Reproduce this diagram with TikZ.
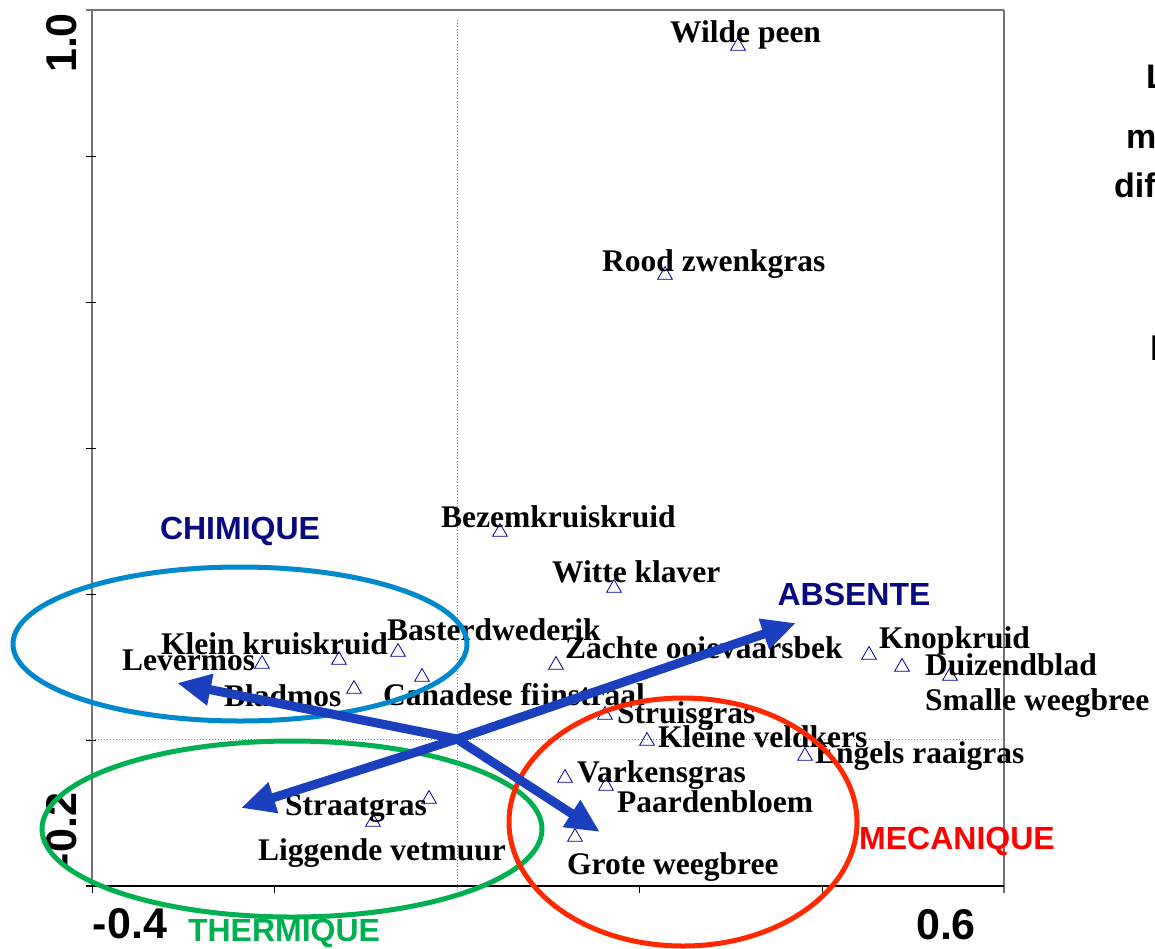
\documentclass[tikz,border=0pt]{standalone}
\usepackage{fontspec}
\setmainfont{Liberation Serif}
\setsansfont{Liberation Sans}
\usetikzlibrary{positioning, shapes.geometric, arrows.meta}
\definecolor{markblue}{RGB}{0,0,153}
\definecolor{catnavy}{RGB}{10,10,128}
\definecolor{vecblue}{RGB}{26,64,190}
\definecolor{chimblue}{RGB}{0,136,204}
\definecolor{thermgreen}{RGB}{0,176,80}
\definecolor{mecared}{RGB}{255,40,0}
\definecolor{axisgray}{RGB}{115,115,115}
\tikzstyle{Species} = [regular polygon, regular polygon sides=3, draw=markblue,
  line width=0.8pt, minimum size=17pt, inner sep=0pt]
\tikzstyle{Name} = [anchor=base west, inner sep=0pt,
  font=\fontsize{31.5}{31.5}\selectfont\bfseries]
\tikzstyle{Group} = [inner sep=0pt, font=\fontsize{32}{32}\selectfont\sffamily\bfseries]
\tikzstyle{Title} = [anchor=base west, inner sep=0pt,
  font=\fontsize{34}{34}\selectfont\sffamily\bfseries]
\tikzstyle{Tick} = [inner sep=0pt, font=\fontsize{43}{43}\selectfont\sffamily\bfseries]
\tikzstyle{Vector} = [line width=9pt, vecblue,
  -{Triangle[length=34pt,width=30pt]}]

\begin{document}
\begin{tikzpicture}[x=1pt, y=-1pt]
    \useasboundingbox (0,0) rectangle (1155,948);
    % frame and axes
    \draw[axisgray, line width=1.5pt] (86,10) -- (1004,10);
    \draw[axisgray, line width=1.5pt] (92,10) -- (92,886);
    \draw[axisgray, line width=1.5pt] (1004,10) -- (1004,893);
    \draw[black, line width=1.5pt] (86,886) -- (1004,886);
    \foreach \y in {156,302,448,594,740}
        \draw[black, line width=1pt] (86,\y) -- (96,\y);
    \foreach \x in {92,274.5,639.5,822}
        \draw[black, line width=1pt] (\x,886) -- (\x,893);
    \draw[gray, dotted, line width=1pt] (457,20) -- (457,893);
    \draw[gray, dotted, line width=1pt] (86,739) -- (1004,739);
    \node[Tick, rotate=90] (y10) at (62,43) {1.0};
    \node[Tick, rotate=90] (ym02) at (62,830) {-0.2};
    \node[Tick] (xm04) at (130,924) {-0.4};
    \node[Tick] (x06) at (946,925) {0.6};
    % title, cut at the right edge
    \node[Title] (t1) at (1146,88) {L};
    \node[Title] (t2) at (1126,148) {m};
    \node[Title] (t3) at (1114,197) {dif};
    \node[Title] (t4) at (1150,360) {l};
    % species
    \node[Species] (wp) at (738,46) {};
    \node[Species] (rz) at (665,275) {};
    \node[Species] (bk) at (500,532) {};
    \node[Species] (wk) at (614,588) {};
    \node[Species] (zo) at (556,665) {};
    \node[Species] (lm) at (262,664) {};
    \node[Species] (kk) at (339,660) {};
    \node[Species] (bw) at (398,652) {};
    \node[Species] (bm) at (354,689) {};
    \node[Species] (cf) at (422,677) {};
    \node[Species] (kp) at (869,655) {};
    \node[Species] (db) at (902,667) {};
    \node[Species] (sw) at (950,676) {};
    \node[Species] (sg) at (605,715) {};
    \node[Species] (kv) at (647,741) {};
    \node[Species] (er) at (805,756) {};
    \node[Species] (vg) at (565,778) {};
    \node[Species] (pb) at (606,786) {};
    \node[Species] (gw) at (575,837) {};
    \node[Species] (st) at (429,799) {};
    \node[Species] (lv) at (373,822) {};
    \node[Name] (wpT) at (670,42) {Wilde peen};
    \node[Name] (rzT) at (602,271) {Rood zwenkgras};
    \node[Name] (bkT) at (441,527) {Bezemkruiskruid};
    \node[Name] (wkT) at (552,582) {Witte klaver};
    \node[Name] (zoT) at (565,658) {Zachte ooievaarsbek};
    \node[Name] (bwT) at (387,640) {Basterdwederik};
    \node[Name] (kkT) at (161,654) {Klein kruiskruid};
    \node[Name] (lmT) at (122,670) {Levermos};
    \node[Name] (bmT) at (224,706) {Bladmos};
    \node[Name] (cfT) at (383,705) {Canadese fijnstraal};
    \node[Name] (kpT) at (879,648) {Knopkruid};
    \node[Name] (dbT) at (925,675) {Duizendblad};
    \node[Name] (swT) at (925,710) {Smalle weegbree};
    \node[Name] (sgT) at (617,723) {Struisgras};
    \node[Name] (kvT) at (658,747) {Kleine veldkers};
    \node[Name] (erT) at (815,763) {Engels raaigras};
    \node[Name] (vgT) at (577,782) {Varkensgras};
    \node[Name] (pbT) at (617,812) {Paardenbloem};
    \node[Name] (stT) at (285,815) {Straatgras};
    \node[Name] (lvT) at (258,860) {Liggende vetmuur};
    \node[Name] (gwT) at (567,874) {Grote weegbree};
    % groups
    \draw[chimblue, line width=5pt] (240,644) ellipse [x radius=227, y radius=77];
    \draw[thermgreen, line width=5pt] (292,829) ellipse [x radius=250, y radius=88];
    \draw[mecared, line width=5pt] (683,822) ellipse [x radius=174, y radius=124];
    \node[Group, text=catnavy] (chim) at (240,531) {CHIMIQUE};
    \node[Group, text=catnavy] (abs) at (854,594) {ABSENTE};
    \node[Group, text=red] (meca) at (957,841) {MECANIQUE};
    \node[Group, text=thermgreen] (therm) at (284,933) {THERMIQUE};
    % vectors
    \coordinate (O) at (457,739);
    \coordinate (tipChim) at (177,683);
    \coordinate (tipAbs) at (796,623);
    \coordinate (tipTherm) at (241,808);
    \coordinate (tipMeca) at (600,832);
    \draw[Vector] (O) -- (tipChim);
    \draw[Vector] (O) -- (tipAbs);
    \draw[Vector] (O) -- (tipTherm);
    \draw[Vector] (O) -- (tipMeca);
\end{tikzpicture}
\end{document}
